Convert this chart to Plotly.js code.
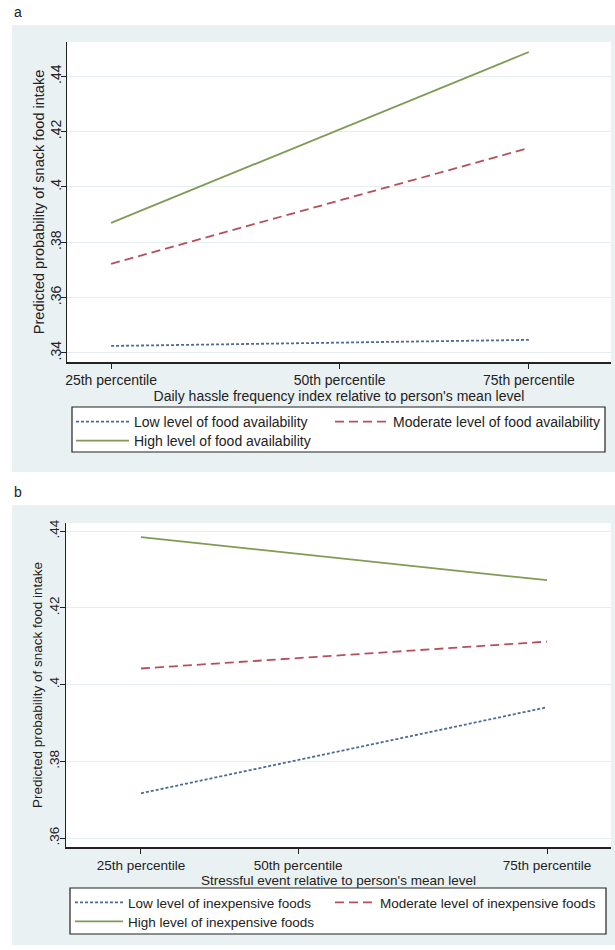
<!DOCTYPE html>
<html><head><meta charset="utf-8">
<script src="https://cdn.plot.ly/plotly-3.0.1.min.js"></script>
<style>html,body{margin:0;padding:0;background:#fff}#chart{width:615px;height:950px}</style>
</head><body><div id="chart"></div>
<script>
// ---- data ----
const percentileLabels = ['25th percentile', '50th percentile', '75th percentile'];
const hassleX = [0, 0.547, 1];          // relative position of the percentiles (panel a)
const stressX = [0, 0.387, 1];          // relative position of the percentiles (panel b)
const hassleLow = [0.3425, 0.3437, 0.3447];
const hassleModerate = [0.3722, 0.3951, 0.4141];
const hassleHigh = [0.3870, 0.4208, 0.4488];
const stressLow = [0.3717, 0.3804, 0.3941];
const stressModerate = [0.4042, 0.4069, 0.4112];
const stressHigh = [0.4384, 0.4341, 0.4272];
const yTicksA = [0.34, 0.36, 0.38, 0.40, 0.42, 0.44];
const yTickTextA = ['.34', '.36', '.38', '.4', '.42', '.44'];
const yTicksB = [0.36, 0.38, 0.40, 0.42, 0.44];
const yTickTextB = ['.36', '.38', '.4', '.42', '.44'];
const namesA = ['Low level of food availability', 'Moderate level of food availability', 'High level of food availability'];
const namesB = ['Low level of inexpensive foods', 'Moderate level of inexpensive foods', 'High level of inexpensive foods'];
const xTitleA = "Daily hassle frequency index relative to person's mean level";
const xTitleB = "Stressful event relative to person's mean level";
const yTitle = 'Predicted probability of snack food intake';

// ---- styles ----
const W = 615, H = 950;
const px = v => v / W;
const py = v => 1 - v / H;
const colors = ['#4d6a96', '#b5505a', '#7f9b55'];
const dashes = ['3px,2px', '9px,5px', 'solid'];
const FONT = '"Liberation Sans", Arial, sans-serif';
const INK = '#222';

const seriesA = [hassleLow, hassleModerate, hassleHigh];
const seriesB = [stressLow, stressModerate, stressHigh];
const legendsA = ['legend', 'legend2', 'legend3'];
const legendsB = ['legend4', 'legend5', 'legend6'];
const data = [];
seriesA.forEach((s, i) => data.push({
  x: hassleX, y: s, type: 'scatter', mode: 'lines', name: namesA[i],
  line: {color: colors[i], dash: dashes[i], width: 1.8},
  xaxis: 'x', yaxis: 'y', legend: legendsA[i], hoverinfo: 'skip'
}));
seriesB.forEach((s, i) => data.push({
  x: stressX, y: s, type: 'scatter', mode: 'lines', name: namesB[i],
  line: {color: colors[i], dash: dashes[i], width: 1.8},
  xaxis: 'x2', yaxis: 'y2', legend: legendsB[i], hoverinfo: 'skip'
}));

const baseX = {
  showgrid: false, zeroline: false, showline: true, linecolor: INK, linewidth: 1.5,
  ticks: 'outside', ticklen: 5, tickwidth: 1, tickcolor: INK, automargin: false
};
const baseY = Object.assign({}, baseX, {
  showgrid: true, gridcolor: '#e4edf0', gridwidth: 1, tickangle: -90
});

const GRAY = '#eaf1f3';
const rect = (x0, x1, y0, y1, fill, line) => ({
  type: 'rect', xref: 'paper', yref: 'paper', layer: 'below',
  x0: px(x0), x1: px(x1), y0: py(y1), y1: py(y0),
  fillcolor: fill, line: line || {width: 0}
});
const legendAt = (x, yTop, itemwidth, size) => ({
  x: px(x), xanchor: 'left', y: py(yTop), yanchor: 'top',
  bgcolor: 'rgba(0,0,0,0)', borderwidth: 0, itemwidth: itemwidth,
  font: {size: size, color: INK}
});

const layout = {
  width: W, height: H, margin: {l: 0, r: 0, t: 0, b: 0},
  paper_bgcolor: '#ffffff', plot_bgcolor: 'rgba(0,0,0,0)',
  font: {family: FONT, size: 14, color: INK},
  showlegend: true,
  xaxis: Object.assign({}, baseX, {
    domain: [px(67), px(611)], range: [-0.1055, 1.1966], anchor: 'y',
    tickvals: hassleX, ticktext: percentileLabels, tickfont: {size: 14, color: INK},
    title: {text: xTitleA, standoff: 0, font: {size: 14, color: INK}}
  }),
  yaxis: Object.assign({}, baseY, {
    domain: [py(362), py(42)], range: [0.3367, 0.4524], anchor: 'x',
    tickvals: yTicksA, ticktext: yTickTextA, tickfont: {size: 14, color: INK},
    ticklabelstandoff: -6,
    title: {text: yTitle, standoff: 0, font: {size: 14.5, color: INK}}
  }),
  xaxis2: Object.assign({}, baseX, {
    domain: [px(66), px(611)], range: [-0.1847, 1.1576], anchor: 'y2',
    tickvals: stressX, ticktext: percentileLabels, tickfont: {size: 13.5, color: INK},
    title: {text: xTitleB, standoff: 0, font: {size: 13.5, color: INK}}
  }),
  yaxis2: Object.assign({}, baseY, {
    domain: [py(847), py(523)], range: [0.3577, 0.4421], anchor: 'x2',
    tickvals: yTicksB, ticktext: yTickTextB, tickfont: {size: 13.5, color: INK},
    ticklabelstandoff: -5,
    title: {text: yTitle, standoff: 1, font: {size: 13.5, color: INK}}
  }),
  legend: legendAt(71, 406, 53, 14),
  legend2: legendAt(330, 406, 53, 14),
  legend3: legendAt(71, 425, 53, 14),
  legend4: legendAt(70, 887, 48, 13.5),
  legend5: legendAt(330, 887, 40, 13.5),
  legend6: legendAt(70, 906, 48, 13.5),
  shapes: [
    rect(12, 615, 25, 472, GRAY),
    rect(67, 611, 42, 362, '#ffffff'),
    rect(72, 605, 407, 452, '#ffffff', {color: INK, width: 1.2}),
    rect(12, 615, 505, 945, GRAY),
    rect(66, 611, 523, 847, '#ffffff'),
    rect(70, 606, 888, 934, '#ffffff', {color: INK, width: 1.2})
  ],
  annotations: [
    {text: 'a', xref: 'paper', yref: 'paper', x: px(18), y: py(12), xanchor: 'center', yanchor: 'middle', showarrow: false, font: {size: 14, color: INK}},
    {text: 'b', xref: 'paper', yref: 'paper', x: px(18), y: py(492), xanchor: 'center', yanchor: 'middle', showarrow: false, font: {size: 14, color: INK}}
  ]
};

Plotly.newPlot('chart', data, layout, {displayModeBar: false, staticPlot: true});
</script>
</body></html>
